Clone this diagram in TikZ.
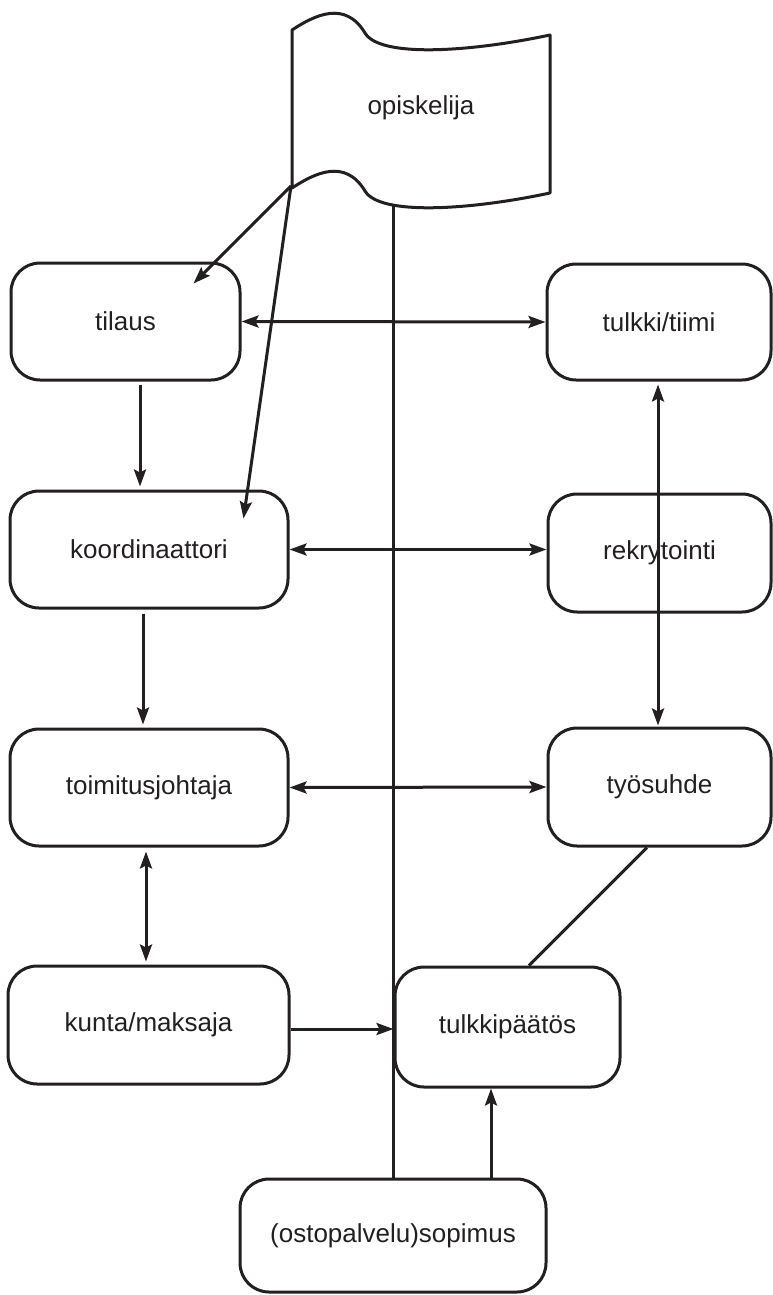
\documentclass[tikz,border=0pt]{standalone}
\usepackage{fontspec}
\setmainfont{Liberation Sans}
\usetikzlibrary{arrows.meta}
\definecolor{ink}{HTML}{231F20}
\begin{document}
\begin{tikzpicture}[x=1pt,y=-1pt,
  line width=3pt, draw=ink, text=ink,
  >={Stealth[length=17pt,width=12pt,inset=3pt]},
  box/.style={draw, rounded corners=29pt, align=center, inner sep=0pt,
    font=\fontsize{26}{30}\selectfont},
  lbl/.style={font=\fontsize{26}{30}\selectfont}]
\useasboundingbox (0,0) rectangle (773,1295);

% the student's flag
\draw[line join=round]
  (292,30) .. controls (315,15) and (345,0) .. (365,33)
           .. controls (380,58) and (470,52) .. (550,35)
  -- (550,193)
           .. controls (470,210) and (380,216) .. (365,191)
           .. controls (345,158) and (315,173) .. (292,188) -- cycle;
\node[lbl] (flag) at (421,108) {opiskelija};
\coordinate (flagcorner) at (291,186);
\coordinate (flagfoot) at (393,206);

% boxes
\node[box, minimum width=229pt, minimum height=117pt] (tilaus) at (125.5,321.5) {tilaus};
\node[box, minimum width=224pt, minimum height=116pt] (tulkki) at (659,322) {tulkki/tiimi};
\node[box, minimum width=278pt, minimum height=117pt] (koord) at (149,549.5) {koordinaattori};
\node[box, minimum width=223pt, minimum height=118pt] (rekry) at (659.5,553) {rekrytointi};
\node[box, minimum width=278pt, minimum height=117pt] (toim) at (149,787.5) {toimitusjohtaja};
\node[box, minimum width=223pt, minimum height=118pt] (tyo) at (659.5,787) {työsuhde};
\node[box, minimum width=281pt, minimum height=118pt] (kunta) at (148.5,1025) {kunta/maksaja};
\node[box, minimum width=225pt, minimum height=120pt] (tp) at (507.5,1027) {tulkkipäätös};
\node[box, minimum width=306pt, minimum height=113pt] (sop) at (393,1235.5) {(ostopalvelu)sopimus};

% connectors
\draw[->] (flagcorner) -- ([shift={(-48,22)}]tilaus.north east);
\draw[->] (flagcorner) -- ([shift={(-46,29)}]koord.north east);
\draw (flagfoot) -- (sop.north);

\draw[<->] (tilaus.east) -- (tulkki.west);
\draw[->] ([shift={(14.5,3)}]tilaus.south) -- ([shift={(-9,-3)}]koord.north);
\draw[<->] (koord.east) -- (koord.east -| rekry.west);
\draw[->] ([shift={(-6,4)}]koord.south) -- ([shift={(-6,-3)}]toim.north);
\draw[<->] ([shift={(-1,3)}]tulkki.south) -- ([shift={(-1.5,-1)}]tyo.north);
\draw[<->] (toim.east) -- (tyo.west);
\draw[<->] ([shift={(-3,4)}]toim.south) -- ([shift={(-2.5,-3)}]kunta.north);
\draw (tyo.south) ++(-12.5,0) -- ([xshift=21.5pt]tp.north);
\draw[->] ([yshift=-4pt]kunta.east) -- ([yshift=-4pt]kunta.east -| tp.west);
\draw[->] ([xshift=98pt]sop.north) -- ([xshift=98pt]sop.north |- tp.south);
\end{tikzpicture}
\end{document}
